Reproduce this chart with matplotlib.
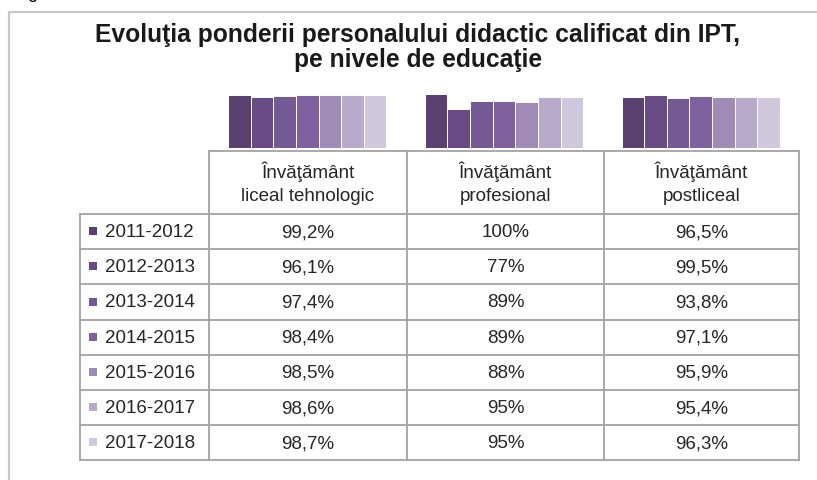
import matplotlib
matplotlib.use("Agg")
import matplotlib.pyplot as plt
from matplotlib.patches import Rectangle

plt.rcParams['font.family'] = ['Liberation Sans', 'DejaVu Sans']

# data
levels = ["Învăţământ\nliceal tehnologic", "Învăţământ\nprofesional", "Învăţământ\npostliceal"]
years = ["2011-2012", "2012-2013", "2013-2014", "2014-2015", "2015-2016", "2016-2017", "2017-2018"]
liceal = [99.2, 96.1, 97.4, 98.4, 98.5, 98.6, 98.7]
profesional = [100, 77, 89, 89, 88, 95, 95]
postliceal = [96.5, 99.5, 93.8, 97.1, 95.9, 95.4, 96.3]
labels_liceal = ["99,2%", "96,1%", "97,4%", "98,4%", "98,5%", "98,6%", "98,7%"]
labels_prof = ["100%", "77%", "89%", "89%", "88%", "95%", "95%"]
labels_post = ["96,5%", "99,5%", "93,8%", "97,1%", "95,9%", "95,4%", "96,3%"]

colors = ["#5a4170", "#684b84", "#745a94", "#7f61a0", "#9f8bb6", "#b8aaca", "#d0c8dc"]

W, H = 817, 481
fig = plt.figure(figsize=(W / 100, H / 100), dpi=100)

# overlay axes in pixel coordinates for frame, title and table
ov = fig.add_axes([0, 0, 1, 1])
ov.set_xlim(0, W)
ov.set_ylim(H, 0)
ov.axis("off")

# chart border (only left and top visible)
ov.plot([9, 9, W + 5], [H + 5, 13, 13], color="#c8c8c8", lw=1.6, solid_capstyle="butt")
# descender of a letter from the text above the chart
ov.text(32, -6, "g", fontsize=13, ha="center", va="center", clip_on=True)

ov.text(418, 35, "Evoluţia ponderii personalului didactic calificat din IPT,",
        fontsize=17.7, fontweight="bold", ha="center", va="center", color="#1a1a1a")
ov.text(418, 60, "pe nivele de educaţie",
        fontsize=17.7, fontweight="bold", ha="center", va="center", color="#1a1a1a")

# bars
col_x = [209, 407, 604, 799]
ax = fig.add_axes([col_x[0] / W, 1 - 148.5 / H, (col_x[-1] - col_x[0]) / W, (148.5 - 95.3) / H])
series = list(zip(liceal, profesional, postliceal))
n = len(years)
bw = 0.805 / n
for j, vals in enumerate(series):
    xs = [i + (j - (n - 1) / 2) * bw for i in range(len(levels))]
    ax.bar(xs, [v / 100 for v in vals], width=bw, color=colors[j],
           edgecolor="white", linewidth=0.7)
ax.set_xlim(-0.5, len(levels) - 0.5)
ax.set_ylim(0.164, 1.0)
ax.axis("off")

# data table
grid = "#a3a3a3"
lw = 1.3
head_top, row_top, row_h = 152, 215, 35.2
label_left = 80
bottom = row_top + row_h * n

ov.plot([col_x[0], col_x[-1]], [head_top, head_top], color=grid, lw=lw)
for x in col_x:
    ov.plot([x, x], [head_top, bottom], color=grid, lw=lw)
ov.plot([label_left, label_left], [row_top, bottom], color=grid, lw=lw)
for r in range(n + 1):
    y = row_top + r * row_h
    ov.plot([label_left, col_x[-1]], [y, y], color=grid, lw=lw)

fs = 13.5
for i, lab in enumerate(levels):
    cx = (col_x[i] + col_x[i + 1]) / 2
    first, second = lab.split("\n")
    ov.text(cx, 172, first, fontsize=fs, ha="center", va="center", color="#262626")
    ov.text(cx, 197, second, fontsize=fs, ha="center", va="center", color="#262626")

cell_labels = [labels_liceal, labels_prof, labels_post]
for r, yr in enumerate(years):
    cy = row_top + (r + 0.5) * row_h
    ov.add_patch(Rectangle((89.5, cy - 4.5), 8, 8, color=colors[r], lw=0))
    ov.text(105, cy, yr, fontsize=fs, ha="left", va="center", color="#262626")
    for i in range(len(levels)):
        cx = (col_x[i] + col_x[i + 1]) / 2
        ov.text(cx, cy, cell_labels[i][r], fontsize=fs, ha="center", va="center",
                color="#262626")

fig.savefig("out.png", dpi=100)
